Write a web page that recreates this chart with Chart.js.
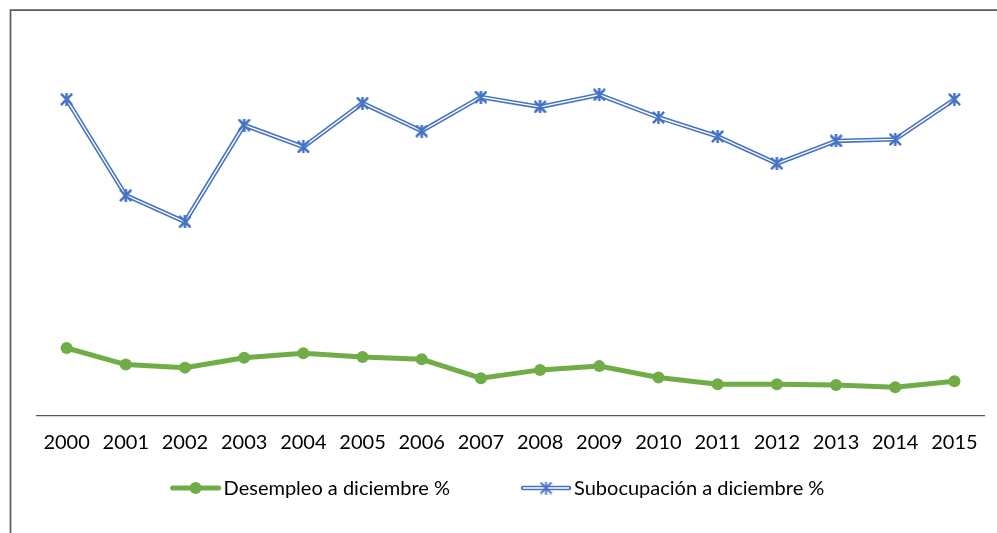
<!DOCTYPE html>
<html><head><meta charset="utf-8">
<script src="https://cdn.jsdelivr.net/npm/chart.js@4.4.1/dist/chart.umd.min.js"></script>
<style>html,body{margin:0;padding:0;background:#fff;overflow:hidden}</style>
</head><body>
<canvas id="c" width="997" height="533" style="display:block;width:997px;height:533px"></canvas>
<script>
// ---- data ----
const years = ['2000','2001','2002','2003','2004','2005','2006','2007','2008','2009','2010','2011','2012','2013','2014','2015'];
const desempleo = [9.0, 6.8, 6.4, 7.7, 8.3, 7.8, 7.5, 5.0, 6.1, 6.6, 5.1, 4.2, 4.2, 4.1, 3.8, 4.6];
const subocupacion = [41.9, 29.2, 25.7, 38.5, 35.6, 41.4, 37.7, 42.2, 40.9, 42.5, 39.5, 37.0, 33.4, 36.4, 36.6, 41.9];
const seriesNames = ['Desempleo a diciembre %', 'Subocupación a diciembre %'];

const GREEN = '#70AD47', BLUE = '#4472C4';
const FONT = 'Lato, "Open Sans", sans-serif';
const FONT_SIZE = 20;

function starImage(size, color) {
  const c = document.createElement('canvas');
  c.width = size; c.height = size;
  const g = c.getContext('2d');
  g.strokeStyle = color; g.lineWidth = 1.9; g.lineCap = 'butt';
  const m = size / 2;
  g.beginPath();
  g.moveTo(1, 1); g.lineTo(size - 1, size - 1);
  g.moveTo(size - 1, 1); g.lineTo(1, size - 1);
  g.moveTo(m, 0); g.lineTo(m, size);
  g.stroke();
  return c;
}
const star = starImage(13, BLUE);

const framePlugin = {
  id: 'frame',
  beforeDraw(chart) {
    const ctx = chart.ctx;
    ctx.save();
    ctx.fillStyle = '#fff';
    ctx.fillRect(0, 0, chart.width, chart.height);
    ctx.strokeStyle = '#595959';
    ctx.lineWidth = 1.7;
    ctx.beginPath();
    ctx.moveTo(10.5, chart.height);
    ctx.lineTo(10.5, 10.2);
    ctx.lineTo(chart.width, 10.2);
    ctx.stroke();
    ctx.restore();
  }
};

const doubleLinePlugin = {
  id: 'doubleLine',
  afterDatasetDraw(chart, args) {
    if (args.index !== 1) return;
    const meta = args.meta;
    const ctx = chart.ctx;
    ctx.save();
    ctx.strokeStyle = '#fff';
    ctx.lineWidth = 1.4;
    ctx.lineJoin = 'miter';
    ctx.beginPath();
    meta.data.forEach((p, i) => { if (i === 0) ctx.moveTo(p.x, p.y); else ctx.lineTo(p.x, p.y); });
    ctx.stroke();
    ctx.restore();
    meta.data.forEach(p => p.draw(ctx, chart.chartArea));
  }
};

const legendPlugin = {
  id: 'customLegend',
  afterDraw(chart) {
    const ctx = chart.ctx;
    const ds = chart.data.datasets;
    ctx.save();
    ctx.font = FONT_SIZE + 'px ' + FONT;
    ctx.textBaseline = 'middle';
    ctx.fillStyle = '#000';
    const tw = ds.map(d => ctx.measureText(d.label).width);
    const SW = 50, GAP = 3, SEP = 71;
    const total = SW + GAP + tw[0] + SEP + SW + GAP + tw[1];
    let x = chart.width / 2 - 1 - total / 2;
    const y = 488;
    // green sample
    ctx.strokeStyle = ds[0].borderColor; ctx.lineWidth = 5; ctx.lineCap = 'round';
    ctx.beginPath(); ctx.moveTo(x + 2, y); ctx.lineTo(x + SW - 2, y); ctx.stroke();
    ctx.fillStyle = ds[0].borderColor;
    ctx.beginPath(); ctx.arc(x + SW / 2, y, 6, 0, Math.PI * 2); ctx.fill();
    ctx.fillStyle = '#000';
    ctx.fillText(ds[0].label, x + SW + GAP, y + 1);
    x += SW + GAP + tw[0] + SEP;
    // blue sample
    ctx.strokeStyle = ds[1].borderColor; ctx.lineWidth = 4.5; ctx.lineCap = 'round';
    ctx.beginPath(); ctx.moveTo(x + 2, y); ctx.lineTo(x + SW - 2, y); ctx.stroke();
    ctx.strokeStyle = '#fff'; ctx.lineWidth = 1.4; ctx.lineCap = 'butt';
    ctx.beginPath(); ctx.moveTo(x + 2, y); ctx.lineTo(x + SW - 2, y); ctx.stroke();
    ctx.drawImage(star, x + SW / 2 - star.width / 2, y - star.height / 2);
    ctx.fillStyle = '#000';
    ctx.fillText(ds[1].label, x + SW + GAP, y + 1);
    ctx.restore();
  }
};

new Chart(document.getElementById('c'), {
  type: 'line',
  data: {
    labels: years,
    datasets: [
      {
        label: seriesNames[0],
        data: desempleo,
        borderColor: GREEN,
        backgroundColor: GREEN,
        borderWidth: 5,
        borderCapStyle: 'round',
        pointRadius: 6,
        pointHoverRadius: 6,
        pointBorderWidth: 0,
        pointBackgroundColor: GREEN,
        tension: 0
      },
      {
        label: seriesNames[1],
        data: subocupacion,
        borderColor: BLUE,
        backgroundColor: BLUE,
        borderWidth: 4.5,
        pointStyle: star,
        pointRadius: 6,
        tension: 0
      }
    ]
  },
  options: {
    responsive: false,
    devicePixelRatio: 1,
    animation: false,
    layout: { padding: { left: 37, right: 13, top: 23, bottom: 63 } },
    plugins: {
      legend: { display: false },
      tooltip: { enabled: false }
    },
    scales: {
      x: {
        offset: true,
        grid: { display: false, drawTicks: false },
        border: { display: true, color: '#595959', width: 1.3 },
        ticks: { color: '#000', padding: 15, font: { family: FONT, size: FONT_SIZE }, maxRotation: 0 }
      },
      y: {
        display: false,
        min: 0,
        max: 52
      }
    }
  },
  plugins: [framePlugin, doubleLinePlugin, legendPlugin]
});
</script>
</body></html>
